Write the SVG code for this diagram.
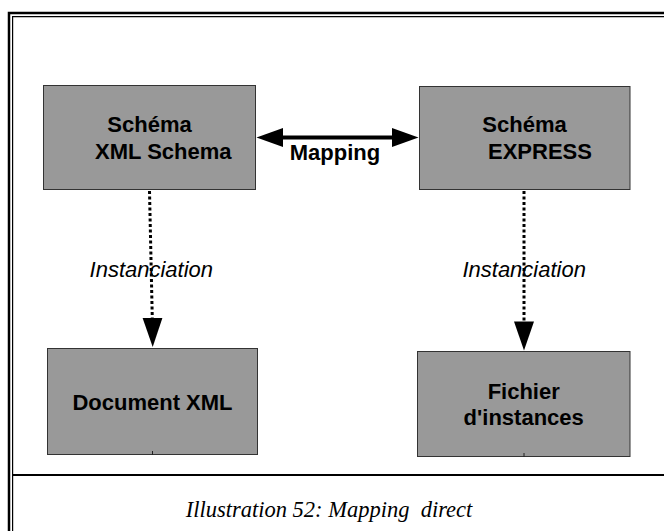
<svg xmlns="http://www.w3.org/2000/svg" width="664" height="531" viewBox="0 0 664 531">
  <style>
    .box { fill: #999999; stroke: #333333; stroke-width: 1; }
    .lbl { font-family: "Liberation Sans", Arial, sans-serif; font-weight: bold; font-size: 22px; fill: #000; }
    .inst { font-family: "Liberation Sans", Arial, sans-serif; font-style: italic; font-size: 22px; fill: #000; text-anchor: middle; }
    .dot { stroke: #000; stroke-width: 3; stroke-dasharray: 3 2.5; fill: none; }
    .frame { stroke: #000; fill: none; }
    .caption { font-family: "Liberation Serif", "Times New Roman", serif; font-style: italic; font-size: 22.5px; fill: #000; text-anchor: middle; white-space: pre; }
  </style>

  <rect x="0" y="0" width="664" height="531" fill="#ffffff"/>

  <!-- frame: double border and caption divider -->
  <g id="frame">
    <path class="frame" stroke-width="2.5" d="M9,531 V13 H664"/>
    <path class="frame" stroke-width="1.2" d="M12.6,531 V16.6 H664"/>
    <line class="frame" stroke-width="2.2" x1="13" y1="475" x2="664" y2="475"/>
  </g>

  <!-- nodes -->
  <g id="schema-xml">
    <rect class="box" x="43.5" y="85.5" width="212" height="104"/>
    <text class="lbl" x="149.5" y="132" text-anchor="middle">Schéma</text>
    <text class="lbl" x="95" y="159">XML Schema</text>
  </g>

  <g id="schema-express">
    <rect class="box" x="419.5" y="86.5" width="210.5" height="103"/>
    <text class="lbl" x="524.5" y="132" text-anchor="middle">Schéma</text>
    <text class="lbl" x="488" y="159">EXPRESS</text>
  </g>

  <g id="document-xml">
    <rect class="box" x="47.5" y="348.5" width="210" height="106"/>
    <text class="lbl" x="152.5" y="410" text-anchor="middle">Document XML</text>
    <line x1="152.5" y1="451" x2="152.5" y2="455" stroke="#222" stroke-width="1"/>
  </g>

  <g id="fichier-instances">
    <rect class="box" x="417.5" y="351.5" width="212.5" height="105"/>
    <text class="lbl" x="523.7" y="399" text-anchor="middle">Fichier</text>
    <text class="lbl" x="523.7" y="425" text-anchor="middle">d'instances</text>
    <line x1="524" y1="453" x2="524" y2="457" stroke="#222" stroke-width="1"/>
  </g>

  <!-- connectors -->
  <g id="connectors">
    <!-- bidirectional mapping -->
    <line x1="282" y1="137.5" x2="393" y2="137.5" stroke="#000" stroke-width="4"/>
    <polygon points="256.5,137.5 283,128 283,147" fill="#000"/>
    <polygon points="418.5,137.5 392,128 392,147" fill="#000"/>
    <text class="lbl" x="335" y="160" text-anchor="middle">Mapping</text>

    <!-- instantiation, left -->
    <line class="dot" x1="149.5" y1="191" x2="152.3" y2="319"/>
    <polygon points="142.6,318 162.4,318 152.7,347" fill="#000"/>
    <text class="inst" x="151.3" y="277">Instanciation</text>

    <!-- instantiation, right -->
    <line class="dot" x1="524" y1="191" x2="524" y2="322"/>
    <polygon points="514,321.5 534,321.5 524,350.5" fill="#000"/>
    <text class="inst" x="524.2" y="277">Instanciation</text>
  </g>

  <text class="caption" x="329" y="517" xml:space="preserve">Illustration 52: Mapping  direct</text>
</svg>
